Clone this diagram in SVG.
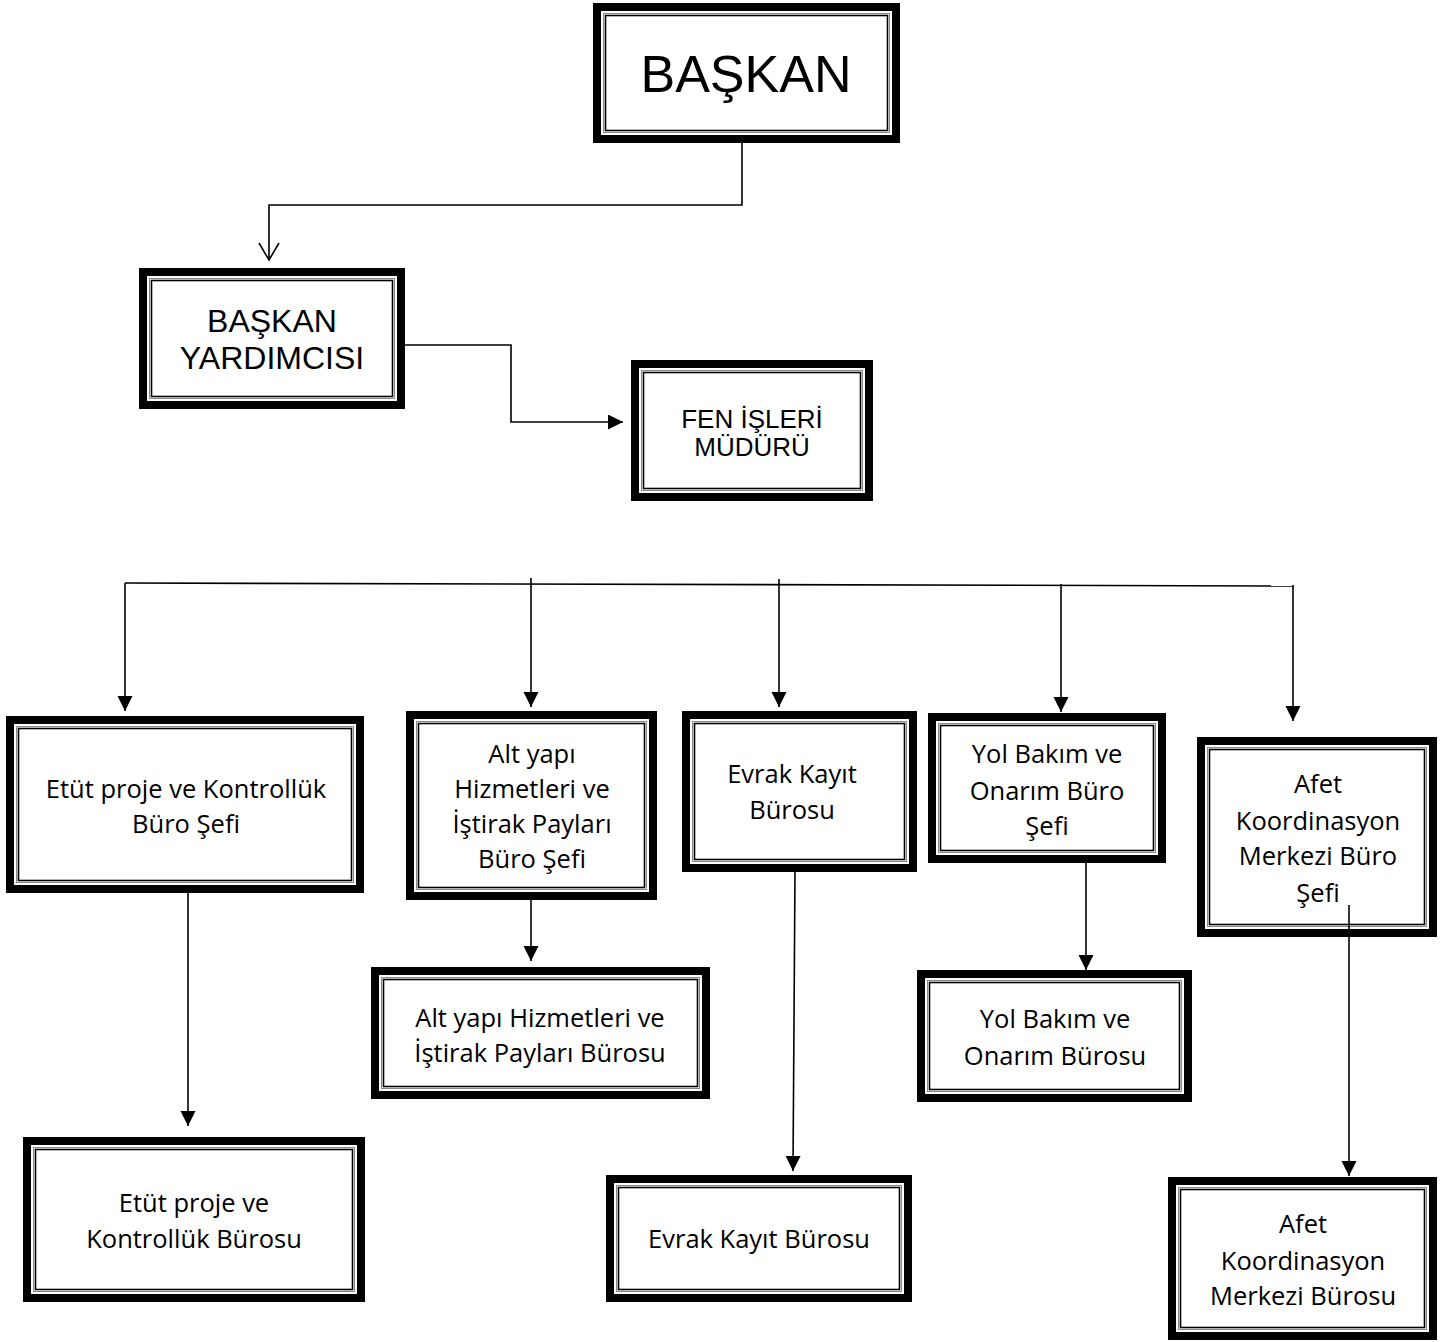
<svg xmlns="http://www.w3.org/2000/svg" width="1456" height="1342" viewBox="0 0 1456 1342">
<defs>
<style>
.o{fill:#fff;stroke:#000;stroke-width:8}
.m{fill:none;stroke:#888;stroke-width:1}
.i{fill:none;stroke:#000;stroke-width:1.6}
.ta{font-family:"Liberation Sans",Arial,sans-serif;fill:#000;text-anchor:middle}
.tc{font-family:"Open Sans","Noto Sans",sans-serif;font-size:25.5px;fill:#000;text-anchor:middle}
.c{fill:none;stroke:#000;stroke-width:1.6}
</style>
<marker id="ah" markerUnits="userSpaceOnUse" markerWidth="16" markerHeight="16" refX="15" refY="7.5" orient="auto">
<path d="M0,0 L15,7.5 L0,15 Z" fill="#000"/>
</marker>
</defs>
<rect width="1456" height="1342" fill="#fff"/>

<g id="baskan">
<rect class="o" x="597" y="7" width="299" height="132"/>
<rect class="m" x="603.5" y="13.5" width="286" height="119"/>
<rect class="i" x="605.5" y="15.5" width="282" height="115"/>
<text class="ta" x="746" y="92" font-size="52">BAŞKAN</text>
</g>

<g id="baskan-yardimcisi">
<rect class="o" x="143" y="272" width="258" height="133"/>
<rect class="m" x="149.5" y="278.5" width="245" height="120"/>
<rect class="i" x="151.5" y="280.5" width="241" height="116"/>
<text class="ta" x="272" y="332" font-size="32">BAŞKAN</text>
<text class="ta" x="272" y="369" font-size="32">YARDIMCISI</text>
</g>

<g id="fen-isleri">
<rect class="o" x="635" y="364" width="234" height="133"/>
<rect class="m" x="641.5" y="370.5" width="221" height="120"/>
<rect class="i" x="643.5" y="372.5" width="217" height="116"/>
<text class="ta" x="752" y="428" font-size="26">FEN İŞLERİ</text>
<text class="ta" x="752" y="456" font-size="26">MÜDÜRÜ</text>
</g>

<g id="etut-sef">
<rect class="o" x="10" y="720" width="350" height="169"/>
<rect class="m" x="16.5" y="726.5" width="337" height="156"/>
<rect class="i" x="18.5" y="728.5" width="333" height="152"/>
<text class="tc" x="186" y="798">Etüt proje ve Kontrollük</text>
<text class="tc" x="186" y="833">Büro Şefi</text>
</g>

<g id="altyapi-sef">
<rect class="o" x="410" y="715" width="243" height="181"/>
<rect class="m" x="416.5" y="721.5" width="230" height="168"/>
<rect class="i" x="418.5" y="723.5" width="226" height="164"/>
<text class="tc" x="532" y="763">Alt yapı</text>
<text class="tc" x="532" y="798">Hizmetleri ve</text>
<text class="tc" x="532" y="833">İştirak Payları</text>
<text class="tc" x="532" y="868">Büro Şefi</text>
</g>

<g id="evrak-buro">
<rect class="o" x="686" y="715" width="227" height="153"/>
<rect class="m" x="692.5" y="721.5" width="214" height="140"/>
<rect class="i" x="694.5" y="723.5" width="210" height="136"/>
<text class="tc" x="792" y="783">Evrak Kayıt</text>
<text class="tc" x="792" y="819">Bürosu</text>
</g>

<g id="yol-sef">
<rect class="o" x="932" y="717" width="230" height="142"/>
<rect class="m" x="938.5" y="723.5" width="217" height="129"/>
<rect class="i" x="940.5" y="725.5" width="213" height="125"/>
<text class="tc" x="1047" y="763">Yol Bakım ve</text>
<text class="tc" x="1047" y="800">Onarım Büro</text>
<text class="tc" x="1047" y="835">Şefi</text>
</g>

<g id="afet-sef">
<rect class="o" x="1201" y="741" width="232" height="192"/>
<rect class="m" x="1207.5" y="747.5" width="219" height="179"/>
<rect class="i" x="1209.5" y="749.5" width="215" height="175"/>
<text class="tc" x="1318" y="793">Afet</text>
<text class="tc" x="1318" y="830">Koordinasyon</text>
<text class="tc" x="1318" y="865">Merkezi Büro</text>
<text class="tc" x="1318" y="902">Şefi</text>
</g>

<g id="etut-buro">
<rect class="o" x="27" y="1141" width="334" height="157"/>
<rect class="m" x="33.5" y="1147.5" width="321" height="144"/>
<rect class="i" x="35.5" y="1149.5" width="317" height="140"/>
<text class="tc" x="194" y="1212">Etüt proje ve</text>
<text class="tc" x="194" y="1248">Kontrollük Bürosu</text>
</g>

<g id="altyapi-buro">
<rect class="o" x="375" y="971" width="331" height="124"/>
<rect class="m" x="381.5" y="977.5" width="318" height="111"/>
<rect class="i" x="383.5" y="979.5" width="314" height="107"/>
<text class="tc" x="540" y="1027">Alt yapı Hizmetleri ve</text>
<text class="tc" x="540" y="1062">İştirak Payları Bürosu</text>
</g>

<g id="evrak-buro2">
<rect class="o" x="610" y="1179" width="298" height="119"/>
<rect class="m" x="616.5" y="1185.5" width="285" height="106"/>
<rect class="i" x="618.5" y="1187.5" width="281" height="102"/>
<text class="tc" x="759" y="1248">Evrak Kayıt Bürosu</text>
</g>

<g id="yol-buro">
<rect class="o" x="921" y="974" width="267" height="124"/>
<rect class="m" x="927.5" y="980.5" width="254" height="111"/>
<rect class="i" x="929.5" y="982.5" width="250" height="107"/>
<text class="tc" x="1055" y="1028">Yol Bakım ve</text>
<text class="tc" x="1055" y="1065">Onarım Bürosu</text>
</g>

<g id="afet-buro">
<rect class="o" x="1172" y="1181" width="261" height="155"/>
<rect class="m" x="1178.5" y="1187.5" width="248" height="142"/>
<rect class="i" x="1180.5" y="1189.5" width="244" height="138"/>
<text class="tc" x="1303" y="1233">Afet</text>
<text class="tc" x="1303" y="1270">Koordinasyon</text>
<text class="tc" x="1303" y="1305">Merkezi Bürosu</text>
</g>

<g id="connectors">
<path class="c" d="M742,143 V205 H269 V259"/>
<polyline class="c" points="259,243 269,260 279,243"/>
<path class="c" d="M405,345 H511 V422 H623" marker-end="url(#ah)"/>
<path class="c" d="M125,583 L1294,586"/>
<path class="c" d="M125,583 V711" marker-end="url(#ah)"/>
<path class="c" d="M531,578 V707" marker-end="url(#ah)"/>
<path class="c" d="M779,579 V707" marker-end="url(#ah)"/>
<path class="c" d="M1061,584 V712" marker-end="url(#ah)"/>
<path class="c" d="M1293,585 V721" marker-end="url(#ah)"/>
<path class="c" d="M188,893 V1126" marker-end="url(#ah)"/>
<path class="c" d="M531,900 V961" marker-end="url(#ah)"/>
<path class="c" d="M795,872 L793,1171" marker-end="url(#ah)"/>
<path class="c" d="M1086,863 V970" marker-end="url(#ah)"/>
<path class="c" d="M1349,905 V1176" marker-end="url(#ah)"/>
</g>
</svg>
